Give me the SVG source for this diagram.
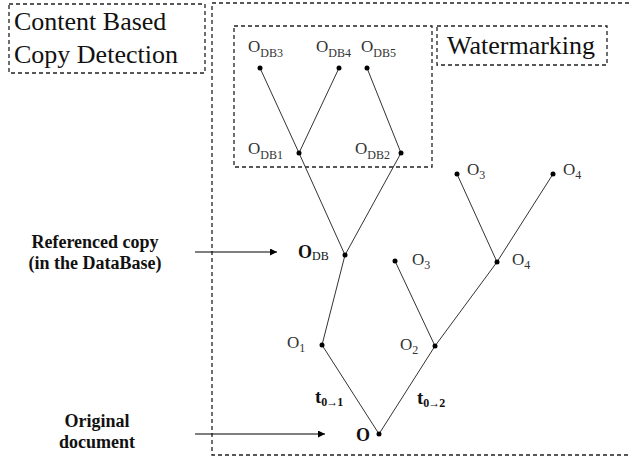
<svg xmlns="http://www.w3.org/2000/svg" width="629" height="456" viewBox="0 0 629 456">
<style>
.box{fill:none;stroke:#222;stroke-width:1.3;stroke-dasharray:4 3}
.edge{stroke:#333;stroke-width:1;fill:none}
.arr{stroke:#000;stroke-width:1;fill:none}
.dot{fill:#000}
.title{font-family:"Liberation Serif",serif;font-size:26px;fill:#111}
.lbl{font-family:"Liberation Serif",serif;font-size:17px;fill:#333}
.sub{font-size:12px}
.bold{font-family:"Liberation Serif",serif;font-weight:bold;font-size:18px;fill:#111}
.bsub{font-size:12px;letter-spacing:-1px}
</style>
<defs>
<marker id="ah" viewBox="0 0 10 10" refX="10" refY="5" markerWidth="9" markerHeight="7" markerUnits="userSpaceOnUse" orient="auto">
<path d="M0,0 L10,5 L0,10 z" fill="#000"/>
</marker>
</defs>
<rect width="629" height="456" fill="#fff"/>

<g id="box-main"><rect class="box" x="212" y="3" width="430" height="452"/></g>
<g id="box-content"><rect class="box" x="9" y="4" width="196" height="69"/>
<text class="title" x="14" y="30">Content Based</text>
<text class="title" x="14" y="63">Copy Detection</text></g>
<g id="box-watermarking"><rect class="box" x="437" y="26" width="170" height="39"/>
<text class="title" x="447" y="54">Watermarking</text></g>
<g id="box-db"><rect class="box" x="234" y="26" width="198" height="141"/></g>

<g id="connectors">
<line class="edge" x1="260" y1="68" x2="299" y2="153"/>
<line class="edge" x1="299" y1="153" x2="345" y2="255"/>
<line class="edge" x1="339" y1="68" x2="299" y2="153"/>
<line class="edge" x1="367" y1="68" x2="401" y2="153"/>
<line class="edge" x1="401" y1="153" x2="345" y2="255"/>
<line class="edge" x1="345" y1="255" x2="322" y2="345"/>
<line class="edge" x1="322" y1="345" x2="379" y2="434"/>
<line class="edge" x1="379" y1="434" x2="435" y2="346"/>
<line class="edge" x1="435" y1="346" x2="497" y2="262"/>
<line class="edge" x1="497" y1="262" x2="553" y2="174"/>
<line class="edge" x1="395" y1="261" x2="435" y2="346"/>
<line class="edge" x1="457" y1="174" x2="497" y2="262"/>
<line class="arr" x1="195" y1="252" x2="277" y2="252" marker-end="url(#ah)"/>
<line class="arr" x1="195" y1="434" x2="325" y2="434" marker-end="url(#ah)"/>
<text class="bold" x="315" y="403" style="font-size:19px">t<tspan class="bsub" dy="3">0→1</tspan></text>
<text class="bold" x="417" y="404" style="font-size:19px">t<tspan class="bsub" dy="3">0→2</tspan></text>
</g>

<g id="n-odb3"><circle class="dot" cx="260" cy="68" r="2.5"/><text class="lbl" x="248" y="52">O<tspan class="sub" dy="5">DB3</tspan></text></g>
<g id="n-odb4"><circle class="dot" cx="339" cy="68" r="2.5"/><text class="lbl" x="316" y="52">O<tspan class="sub" dy="5">DB4</tspan></text></g>
<g id="n-odb5"><circle class="dot" cx="367" cy="68" r="2.5"/><text class="lbl" x="361" y="52">O<tspan class="sub" dy="5">DB5</tspan></text></g>
<g id="n-odb1"><circle class="dot" cx="299" cy="153" r="2.5"/><text class="lbl" x="248" y="154">O<tspan class="sub" dy="5">DB1</tspan></text></g>
<g id="n-odb2"><circle class="dot" cx="401" cy="153" r="2.5"/><text class="lbl" x="355" y="154">O<tspan class="sub" dy="5">DB2</tspan></text></g>
<g id="n-odb"><circle class="dot" cx="345" cy="255" r="2.5"/><text class="bold" x="298" y="258">O<tspan class="sub" style="font-weight:normal" dy="2">DB</tspan></text></g>
<g id="n-o1"><circle class="dot" cx="322" cy="345" r="2.5"/><text class="lbl" x="287" y="348">O<tspan class="sub" dy="4">1</tspan></text></g>
<g id="n-o2"><circle class="dot" cx="435" cy="346" r="2.5"/><text class="lbl" x="400" y="350">O<tspan class="sub" dy="4">2</tspan></text></g>
<g id="n-o3a"><circle class="dot" cx="395" cy="261" r="2.5"/><text class="lbl" x="412" y="265">O<tspan class="sub" dy="4">3</tspan></text></g>
<g id="n-o4a"><circle class="dot" cx="497" cy="262" r="2.5"/><text class="lbl" x="512" y="265">O<tspan class="sub" dy="4">4</tspan></text></g>
<g id="n-o3b"><circle class="dot" cx="457" cy="174" r="2.5"/><text class="lbl" x="467" y="175">O<tspan class="sub" dy="4">3</tspan></text></g>
<g id="n-o4b"><circle class="dot" cx="553" cy="174" r="2.5"/><text class="lbl" x="563" y="175">O<tspan class="sub" dy="4">4</tspan></text></g>
<g id="n-o"><circle class="dot" cx="379" cy="434" r="2.5"/><text class="bold" x="356" y="441">O</text></g>

<g id="lbl-referenced">
<text class="bold" x="95" y="248" text-anchor="middle">Referenced copy</text>
<text class="bold" x="95" y="269" text-anchor="middle">(in the DataBase)</text>
</g>
<g id="lbl-original">
<text class="bold" x="97" y="427" text-anchor="middle">Original</text>
<text class="bold" x="97" y="448" text-anchor="middle">document</text>
</g>
</svg>
